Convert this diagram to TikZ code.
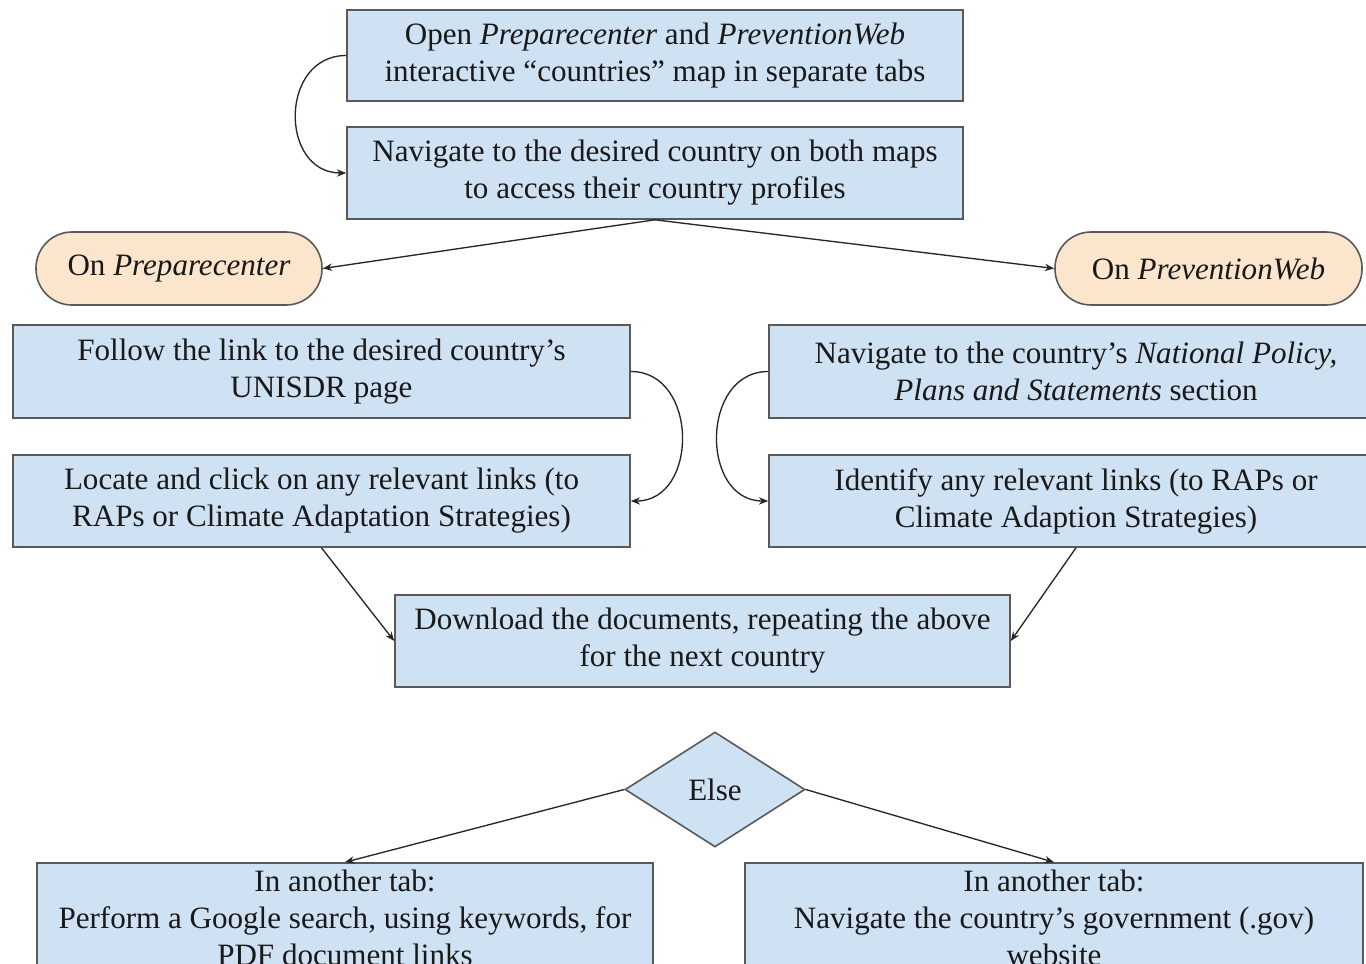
\documentclass[tikz,border=0pt]{standalone}
\usepackage{fontspec}
\setmainfont{Liberation Serif}
\usetikzlibrary{shapes.geometric,arrows.meta}
\definecolor{boxblue}{HTML}{CFE2F3}
\definecolor{pillor}{HTML}{FCE5CD}
\definecolor{bord}{HTML}{595959}
\begin{document}
\begin{tikzpicture}[x=0.75pt,y=-0.75pt,
 every node/.style={font=\fontsize{23.3}{27.75}\selectfont, align=center, inner sep=0pt, text=black!90},
 stepbox/.style={draw=bord, fill=boxblue, line width=1.2pt, minimum width=462pt, minimum height=69pt},
 pill/.style={draw=bord, fill=pillor, line width=1.2pt, rounded corners=27pt, minimum height=54.75pt},
 conn/.style={line width=1pt, draw=black!85, -{Stealth[length=7pt,width=5.5pt]}}]
\useasboundingbox (0,0) rectangle (1366,963);
\clip (0,0) rectangle (1366,963);
\fill[white] (0,0) rectangle (1366,963);

\node[stepbox, minimum height=68.25pt] (b1) at (655,55.5) {Open \textit{Preparecenter} and \textit{PreventionWeb}\\interactive “countries” map in separate tabs};
\node[stepbox] (b2) at (655,173) {Navigate to the desired country on both maps\\to access their country profiles};
\node[pill, minimum width=214.5pt] (pl) at (179,268.5) {On \textit{Preparecenter}};
\node[pill, minimum width=230.25pt] (pr) at (1208.5,268.5) {On \textit{PreventionWeb}};
\node[stepbox, minimum width=462.75pt, minimum height=69.75pt] (la) at (321.5,371.5) {Follow the link to the desired country’s\\UNISDR page};
\node[stepbox, minimum width=462.75pt] (lb) at (321.5,501) {Locate and click on any relevant links (to\\RAPs or Climate Adaptation Strategies)};
\node[stepbox, minimum width=460.5pt, minimum height=69.75pt] (ra) at (1076,371.5) {Navigate to the country’s \textit{National Policy,}\\\textit{Plans and Statements} section};
\node[stepbox, minimum width=460.5pt] (rb) at (1076,501) {Identify any relevant links (to RAPs or\\Climate Adaption Strategies)};
\node[stepbox, minimum width=461.25pt] (dl) at (702.5,641) {Download the documents, repeating the above\\for the next country};
\node[diamond, draw=bord, fill=boxblue, line width=1.2pt, minimum width=135pt, minimum height=86.25pt] (el) at (715,789.5) {Else};
\node[stepbox, minimum width=462pt, minimum height=81.75pt] (bl) at (345,917.5) {In another tab:\\Perform a Google search, using keywords, for\\PDF document links};
\node[stepbox, minimum width=463.5pt, minimum height=81.75pt] (br) at (1054,917.5) {In another tab:\\Navigate the country’s government (.gov)\\website};

\draw[conn] (b1.west) .. controls +(-67,0) and +(-67,0) .. (b2.west);
\draw[conn] (b2.south) -- (pl.east);
\draw[conn] (b2.south) -- (pr.west);
\draw[conn] (la.east) .. controls +(68,0) and +(68,0) .. (lb.east);
\draw[conn] (ra.west) .. controls +(-68,0) and +(-68,0) .. (rb.west);
\draw[conn] (lb.south) -- (dl.west);
\draw[conn] (rb.south) -- (dl.east);
\draw[conn] (el.west) -- (bl.north);
\draw[conn] (el.east) -- (br.north);
\end{tikzpicture}
\end{document}
